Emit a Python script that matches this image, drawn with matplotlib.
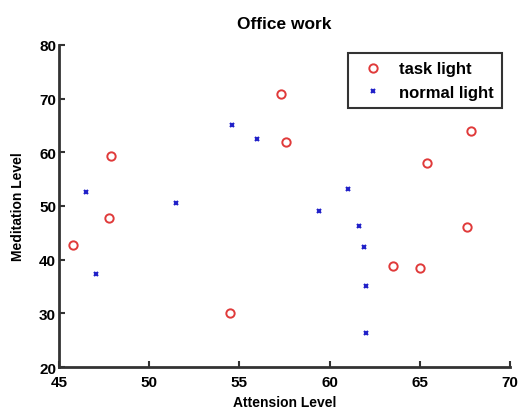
import matplotlib.pyplot as plt

# task light
task_att = [45.8, 47.9, 47.8, 57.3, 57.6, 54.5, 65.4, 67.6, 67.8, 63.5, 65.0]
task_med = [42.7, 59.4, 47.8, 70.9, 61.9, 30.0, 58.1, 46.0, 64.0, 38.9, 38.5]

# normal light
norm_att = [46.5, 47.05, 51.5, 54.6, 56.0, 59.4, 61.0, 61.6, 61.9, 62.0, 62.0]
norm_med = [52.6, 37.4, 50.6, 65.1, 62.5, 49.0, 53.2, 46.2, 42.4, 35.1, 26.4]

plt.rcParams['font.family'] = ['Liberation Sans', 'DejaVu Sans']
plt.rcParams['font.weight'] = 'bold'

fig = plt.figure(figsize=(5.26, 4.14), dpi=100)
ax = fig.add_axes([0.112, 0.111, 0.858, 0.778])

ax.plot(task_att, task_med, 'o', mfc='none', mec='#e03a3a', ms=6, mew=1.4,
        label='task light')
ax.plot(norm_att, norm_med, 'x', color='#2020c8', ms=3.5, mew=1.5,
        label='normal light')

ax.set_xlim(45, 70)
ax.set_ylim(20, 80)
ax.set_xticks(range(45, 71, 5))
ax.set_yticks(range(20, 81, 10))

ax.set_title('Office work', fontsize=12.5, fontweight='bold', pad=12)
ax.set_xlabel('Attension Level', fontsize=10, fontweight='bold', labelpad=4)
ax.set_ylabel('Meditation Level', fontsize=10, fontweight='bold', labelpad=10)

for s in ['top', 'right']:
    ax.spines[s].set_visible(False)
for s in ['left', 'bottom']:
    ax.spines[s].set_linewidth(2)
    ax.spines[s].set_color('#333333')
ax.tick_params(direction='in', length=4, width=1.5, color='#333333',
               labelsize=11)
ax.tick_params(axis='x', pad=6)
ax.tick_params(axis='y', pad=2)

leg = ax.legend(loc='upper right', fontsize=12, frameon=True, fancybox=False,
                edgecolor='black', handlelength=2.0, handletextpad=0.6,
                borderpad=0.5, labelspacing=0.5, borderaxespad=0.2,
                bbox_to_anchor=(0.99, 0.985))
leg.get_frame().set_linewidth(1.5)

fig.savefig('out.png', dpi=100)
